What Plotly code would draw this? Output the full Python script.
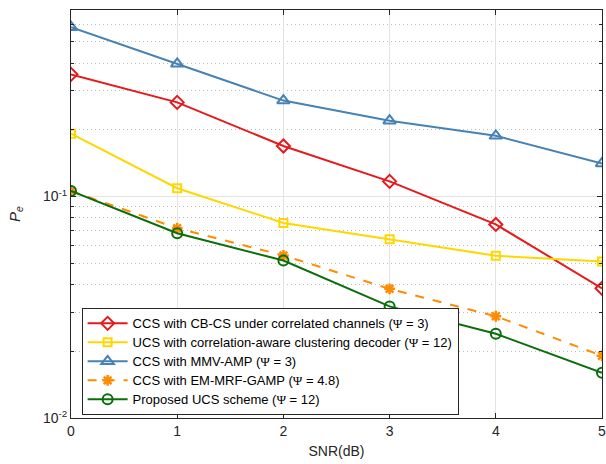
import plotly.graph_objects as go
import numpy as np

snr = [0, 1, 2, 3, 4, 5]

psi = "<span style='font-family:Liberation Serif'>Ψ</span>"
names = [
    f"CCS with CB-CS under correlated channels ({psi} = 3)",
    f"UCS with correlation-aware clustering decoder ({psi} = 12)",
    f"CCS with MMV-AMP ({psi} = 3)",
    f"CCS with EM-MRF-GAMP ({psi} = 4.8)",
    f"Proposed UCS scheme ({psi} = 12)",
]
names = [f"<span style='font-size:13px'>{n}</span>" for n in names]

cbcs = [0.356, 0.266, 0.169, 0.117, 0.0748, 0.0385]
ucs_cluster = [0.192, 0.109, 0.0760, 0.0641, 0.0540, 0.0509]
mmv_amp = [0.581, 0.397, 0.271, 0.220, 0.188, 0.141]
em_mrf = [0.106, 0.0719, 0.0542, 0.0383, 0.0288, 0.0191]
proposed = [0.106, 0.0683, 0.0514, 0.0319, 0.0240, 0.0160]

x_ticks = [0, 1, 2, 3, 4, 5]
y_ticks = [0.01, 0.1]
y_ticktext = ["10<sup>-2</sup>", "10<sup>-1</sup>"]
y_minor = [0.02, 0.03, 0.04, 0.05, 0.06, 0.07, 0.08, 0.09,
           0.2, 0.3, 0.4, 0.5, 0.6]

series = [
    (cbcs, "#e41a1c", "solid", "diamond-open", 10, 2),
    (ucs_cluster, "#ffd700", "solid", "square-open", 8, 2),
    (mmv_amp, "#4682b4", "solid", "triangle-up-open", 11, 2),
    (em_mrf, "#ff8c00", "dash", "asterisk-open", 9, 2.5),
    (proposed, "#0a6e0a", "solid", "circle-open", 10, 2),
]

fig = go.Figure()
for (vals, color, dash, sym, size, mlw), name in zip(series, names):
    fig.add_trace(go.Scatter(
        x=snr, y=vals, name=name, mode="lines+markers",
        line=dict(color=color, width=2, dash=dash),
        marker=dict(symbol=sym, size=size, color=color,
                    line=dict(color=color, width=mlw)),
    ))

axis_color = "#262626"
fig.update_layout(
    width=606, height=464,
    margin=dict(l=71, r=0, t=10, b=46),
    paper_bgcolor="white", plot_bgcolor="white",
    font=dict(family="Liberation Sans, Arial, sans-serif", size=14, color=axis_color),
    showlegend=True,
    legend=dict(
        x=0.02, y=0.27, xanchor="left", yanchor="top",
        bgcolor="white", bordercolor="#262626", borderwidth=1,
        font=dict(size=12, color="black"),
        itemwidth=40, tracegroupgap=0,
    ),
    xaxis=dict(
        range=[0, 5], tickvals=x_ticks, ticks="inside", ticklen=5,
        tickcolor=axis_color, ticklabeloverflow="allow",
        showline=True, linecolor=axis_color, linewidth=1, mirror="allticks",
        showgrid=True, gridcolor="#e3e3e3", gridwidth=1, zeroline=False,
        title=dict(text="SNR(dB)", standoff=8, font=dict(size=14)),
        tickfont=dict(size=14),
    ),
    yaxis=dict(
        type="log", range=[-2, np.log10(0.695)],
        tickvals=y_ticks, ticktext=y_ticktext, ticks="inside", ticklen=5,
        tickcolor=axis_color,
        showline=True, linecolor=axis_color, linewidth=1, mirror="allticks",
        showgrid=True, gridcolor="#e3e3e3", gridwidth=1, zeroline=False,
        minor=dict(tickvals=y_minor, ticks="inside", ticklen=3,
                   tickcolor=axis_color, showgrid=True,
                   gridcolor="#bdbdbd", griddash="1px,3px", gridwidth=1),
        title=dict(text="<i>P</i><sub><i>e</i></sub>", standoff=18, font=dict(size=15)),
        tickfont=dict(size=14),
    ),
)

fig.write_html(
    "out.html",
    config={"displayModeBar": False},
    post_script="document.body.style.margin='0';document.body.style.overflow='hidden';",
)
